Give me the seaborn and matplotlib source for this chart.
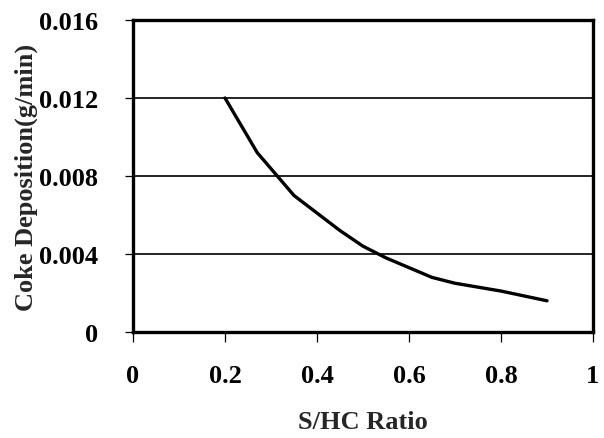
import numpy as np
import pandas as pd
import matplotlib
matplotlib.use("Agg")
import matplotlib.pyplot as plt
import seaborn as sns

# data
shc_ratio = [0.20, 0.27, 0.31, 0.35, 0.40, 0.45, 0.50, 0.55, 0.60, 0.65, 0.70, 0.80, 0.90]
coke_rate = [0.0120, 0.0092, 0.0081, 0.0070, 0.0061, 0.0052, 0.0044, 0.0038, 0.0033, 0.0028, 0.0025, 0.0021, 0.0016]

x_ticks = [0, 0.2, 0.4, 0.6, 0.8, 1]
x_labels = ["0", "0.2", "0.4", "0.6", "0.8", "1"]
y_ticks = [0, 0.004, 0.008, 0.012, 0.016]
y_labels = ["0", "0.004", "0.008", "0.012", "0.016"]

df = pd.DataFrame({"S/HC Ratio": shc_ratio, "Coke": coke_rate})

sns.set_style("ticks")
plt.rcParams["font.family"] = ["Liberation Serif", "DejaVu Serif"]
plt.rcParams["font.weight"] = "bold"

FS = 19

fig = plt.figure(figsize=(6.04, 4.39), dpi=100)
ax = fig.add_axes([133 / 604, 1 - 333 / 439, 460 / 604, 312 / 439])

# horizontal gridlines
for yv in y_ticks[1:-1]:
    ax.axhline(yv, color="black", lw=1.2, zorder=1)

sns.lineplot(data=df, x="S/HC Ratio", y="Coke", ax=ax, color="black",
             lw=2.4, sort=False, zorder=3)

ax.set_xlim(0, 1)
ax.set_ylim(0, 0.016)
ax.set_xticks(x_ticks)
ax.set_xticklabels(x_labels)
ax.set_yticks(y_ticks)
ax.set_yticklabels(y_labels)

for spine in ax.spines.values():
    spine.set_visible(True)
    spine.set_linewidth(2.4)
    spine.set_color("black")

ax.tick_params(axis="y", direction="out", length=6, width=0.9, pad=19,
               labelsize=FS, colors="black")
ax.tick_params(axis="x", direction="out", length=7, width=0.9, pad=16,
               labelsize=FS, colors="black")
for lab in ax.get_xticklabels() + ax.get_yticklabels():
    lab.set_fontweight("bold")

ax.set_xlabel("S/HC Ratio", fontsize=FS, fontweight="bold")
ax.set_ylabel("Coke Deposition(g/min)", fontsize=FS, fontweight="bold")
ax.xaxis.set_label_coords(0.5, -0.25)
ax.yaxis.set_label_coords(-0.207, 0.5)

fig.savefig("out.png", dpi=100)
